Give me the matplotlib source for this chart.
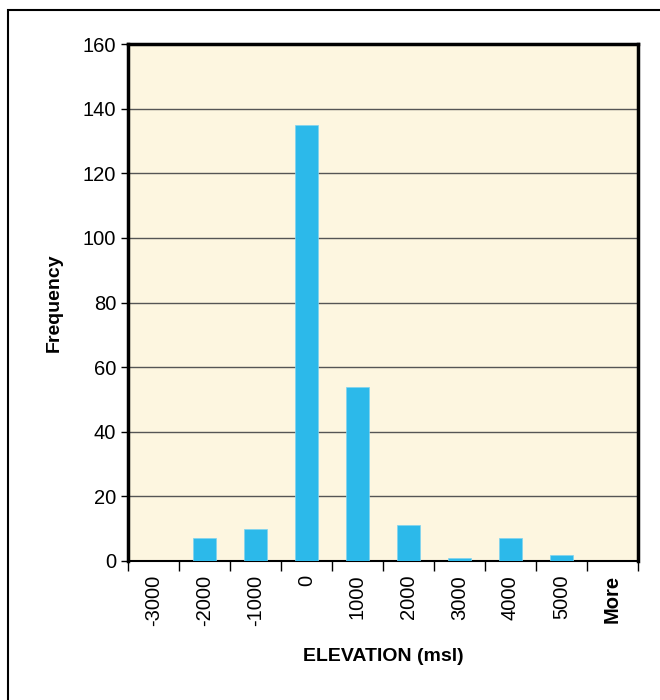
import numpy as np
import matplotlib.pyplot as plt
from matplotlib.patches import Rectangle

# histogram bins (upper limits) and counts
bins = ['-3000', '-2000', '-1000', '0', '1000', '2000', '3000', '4000', '5000', 'More']
freq = [0, 7, 10, 135, 54, 11, 1, 7, 2, 0]

plt.rcParams['font.family'] = ['Liberation Sans', 'DejaVu Sans']

fig = plt.figure(figsize=(6.6, 7.0), dpi=100)
ax = fig.add_axes([128/660, 1 - 561/700, 510/660, 517/700])

# outer chart border
fig.patches.append(Rectangle((8/660, -0.05), 1.1, 1 - 10/700 + 0.05, transform=fig.transFigure,
                             fill=False, edgecolor='black', linewidth=1.5))

ax.set_facecolor('#fdf6e0')
x = np.arange(len(bins))
ax.bar(x, freq, width=0.44, color='#2cb9ea', edgecolor='#7fd3f0', linewidth=0.5, zorder=3)

ax.set_ylim(0, 160)
ax.set_xlim(-0.5, len(bins) - 0.5)
ax.set_yticks(np.arange(0, 161, 20))
ax.yaxis.grid(True, color='#555555', linewidth=1.0)
ax.set_axisbelow(True)

# category labels at centres, tick marks at boundaries
ax.set_xticks(x)
ax.set_xticklabels(bins, rotation=90, fontsize=14.5)
for lab in ax.get_xticklabels():
    if lab.get_text() == 'More':
        lab.set_fontweight('bold')
ax.tick_params(axis='x', which='major', length=0, pad=10)
ax.set_xticks(np.arange(-0.5, len(bins)), minor=True)
ax.tick_params(axis='x', which='minor', length=7, width=1, direction='out')
ax.tick_params(axis='y', labelsize=14.5, length=5, width=1)

for s in ax.spines.values():
    s.set_linewidth(2.5)
ax.spines['bottom'].set_linewidth(1.5)

ax.set_ylabel('Frequency', fontsize=14, fontweight='bold', labelpad=14)
ax.set_xlabel('ELEVATION (msl)', fontsize=14, fontweight='bold', labelpad=16)

plt.savefig('out.png', dpi=100)
